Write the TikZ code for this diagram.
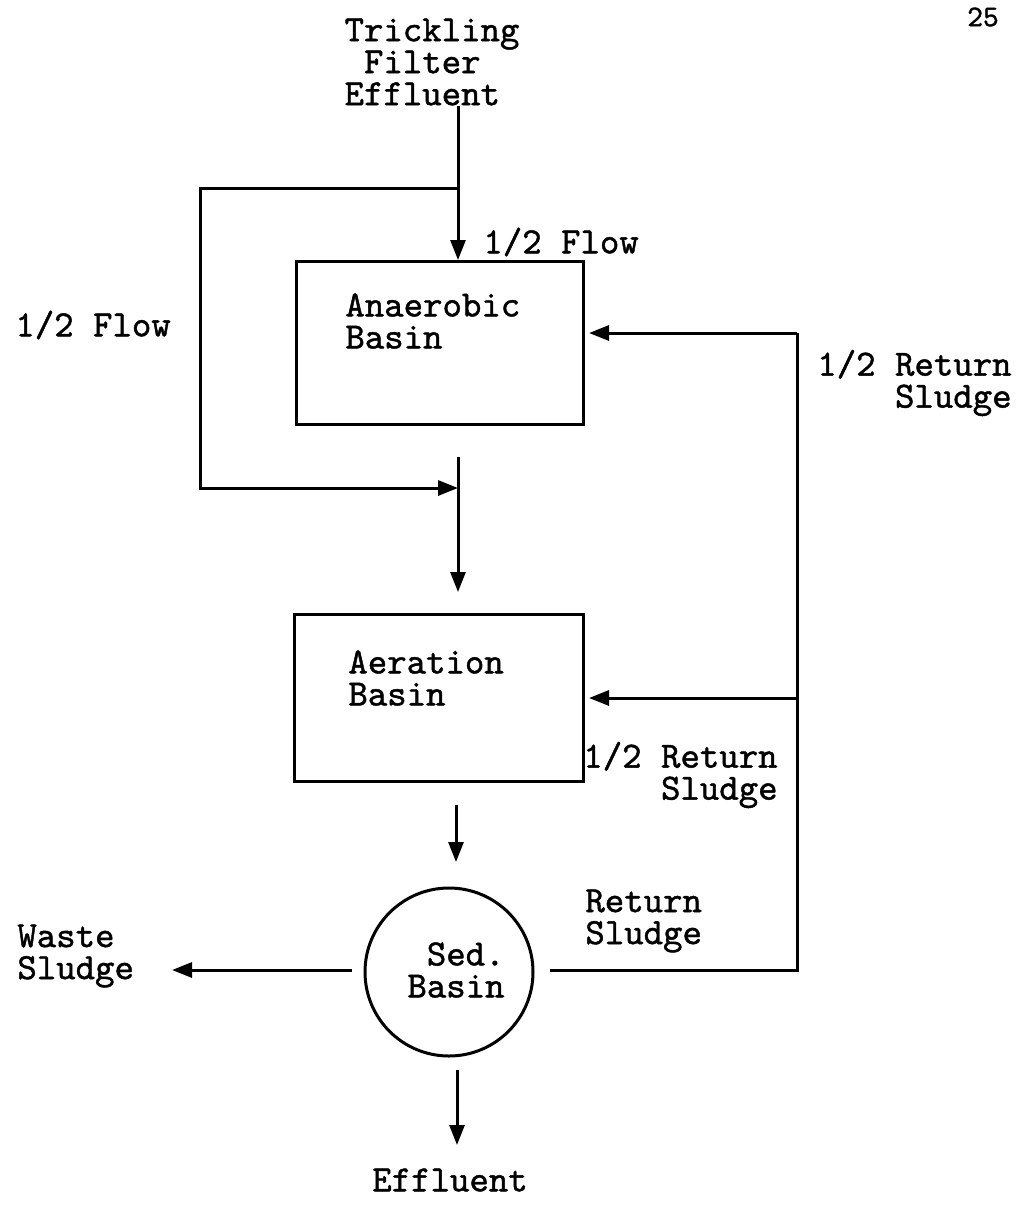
\documentclass[tikz,border=0pt]{standalone}
\usepackage{fontspec}
\newfontfamily\tw[FakeBold=1.2]{lmmono10-regular.otf}
\usetikzlibrary{arrows.meta}
\begin{document}
\begin{tikzpicture}[x=0.5pt,y=-0.5pt,
  line/.style={line width=1.5pt},
  flow/.style={line width=1.5pt, -{Triangle[length=10pt,width=7.5pt]}},
  lbl/.style={font=\tw\fontsize{18.5pt}{16pt}\selectfont, inner sep=0pt},
  basin/.style={draw, line width=1.5pt, anchor=north west, inner sep=0pt},
]
\useasboundingbox[fill=white] (0,0) rectangle (1025,1207);

% basins
\node[basin, minimum width=143.5pt, minimum height=81.5pt] (an) at (295,260) {};
\node[basin, minimum width=144.5pt, minimum height=83.5pt] (ae) at (293,613) {};
\node[circle, draw, line width=1.5pt, minimum size=84pt, inner sep=0pt] (sed) at (449,972) {};

% texts
\node[lbl, align=left] (tf) at (432,62) {Trickling\\\hphantom{T}Filter\\Effluent};
\node[lbl, anchor=west] (f1) at (483,242) {1/2 Flow};
\node[lbl, anchor=west] (f2) at (15,325) {1/2 Flow};
\node[lbl, align=left, anchor=west] (anT) at (345,321) {Anaerobic\\Basin};
\node[lbl, align=left, anchor=west] (aeT) at (348,678) {Aeration\\Basin};
\node[lbl, align=right, anchor=east] (rs1) at (1012,383) {1/2 Return\\Sludge};
\node[lbl, align=right, anchor=east] (rs2) at (778,775) {1/2 Return\\Sludge};
\node[lbl, align=left, anchor=west] (rs3) at (585,921) {Return\\Sludge};
\node[lbl, align=left, anchor=west] (ws) at (17,956) {Waste\\Sludge};
\node[lbl, align=left] (sedT) at (456,970) {\hphantom{B}Sed.\\Basin};
\node[lbl, anchor=center] (eff) at (450,1180) {Effluent};
\node[font=\tw\fontsize{15pt}{15pt}\selectfont, inner sep=0pt] (pg) at (983,17) {25};

% coordinates
\coordinate (intop) at (458,260);
\coordinate (split) at (458,188);
\coordinate (lft) at (200,188);
\coordinate (lfb) at (200,488);
\coordinate (merge) at (458,488);
\coordinate (mtop) at (458,457);
\coordinate (aein) at (458,592);
\coordinate (r1) at (797,333);
\coordinate (r2) at (797,698);
\coordinate (r3) at (797,970);
\coordinate (sedR) at (550,970);
\coordinate (sedL) at (352,970);
\coordinate (wsend) at (172,970);
\coordinate (aeoutA) at (456,805);
\coordinate (aeoutB) at (456,862);
\coordinate (effA) at (457,1070);
\coordinate (effB) at (457,1145);

% connectors
\draw[line] (tf.south -| intop) -- (split);
\draw[flow] (split) -- (intop);
\draw[flow, line join=miter] (split) -- (lft) -- (lfb) -- (merge);
\draw[flow] (mtop) -- (aein);
\draw[line, line join=miter] (sedR) -- (r3) -- (r1);
\draw[flow, shorten >=2pt] (r1) -- (an.east |- r1);
\draw[flow, shorten >=2pt] (r2) -- (ae.east |- r2);
\draw[flow] (aeoutA) -- (aeoutB);
\draw[flow] (sedL) -- (wsend);
\draw[flow] (effA) -- (effB);
\end{tikzpicture}
\end{document}
